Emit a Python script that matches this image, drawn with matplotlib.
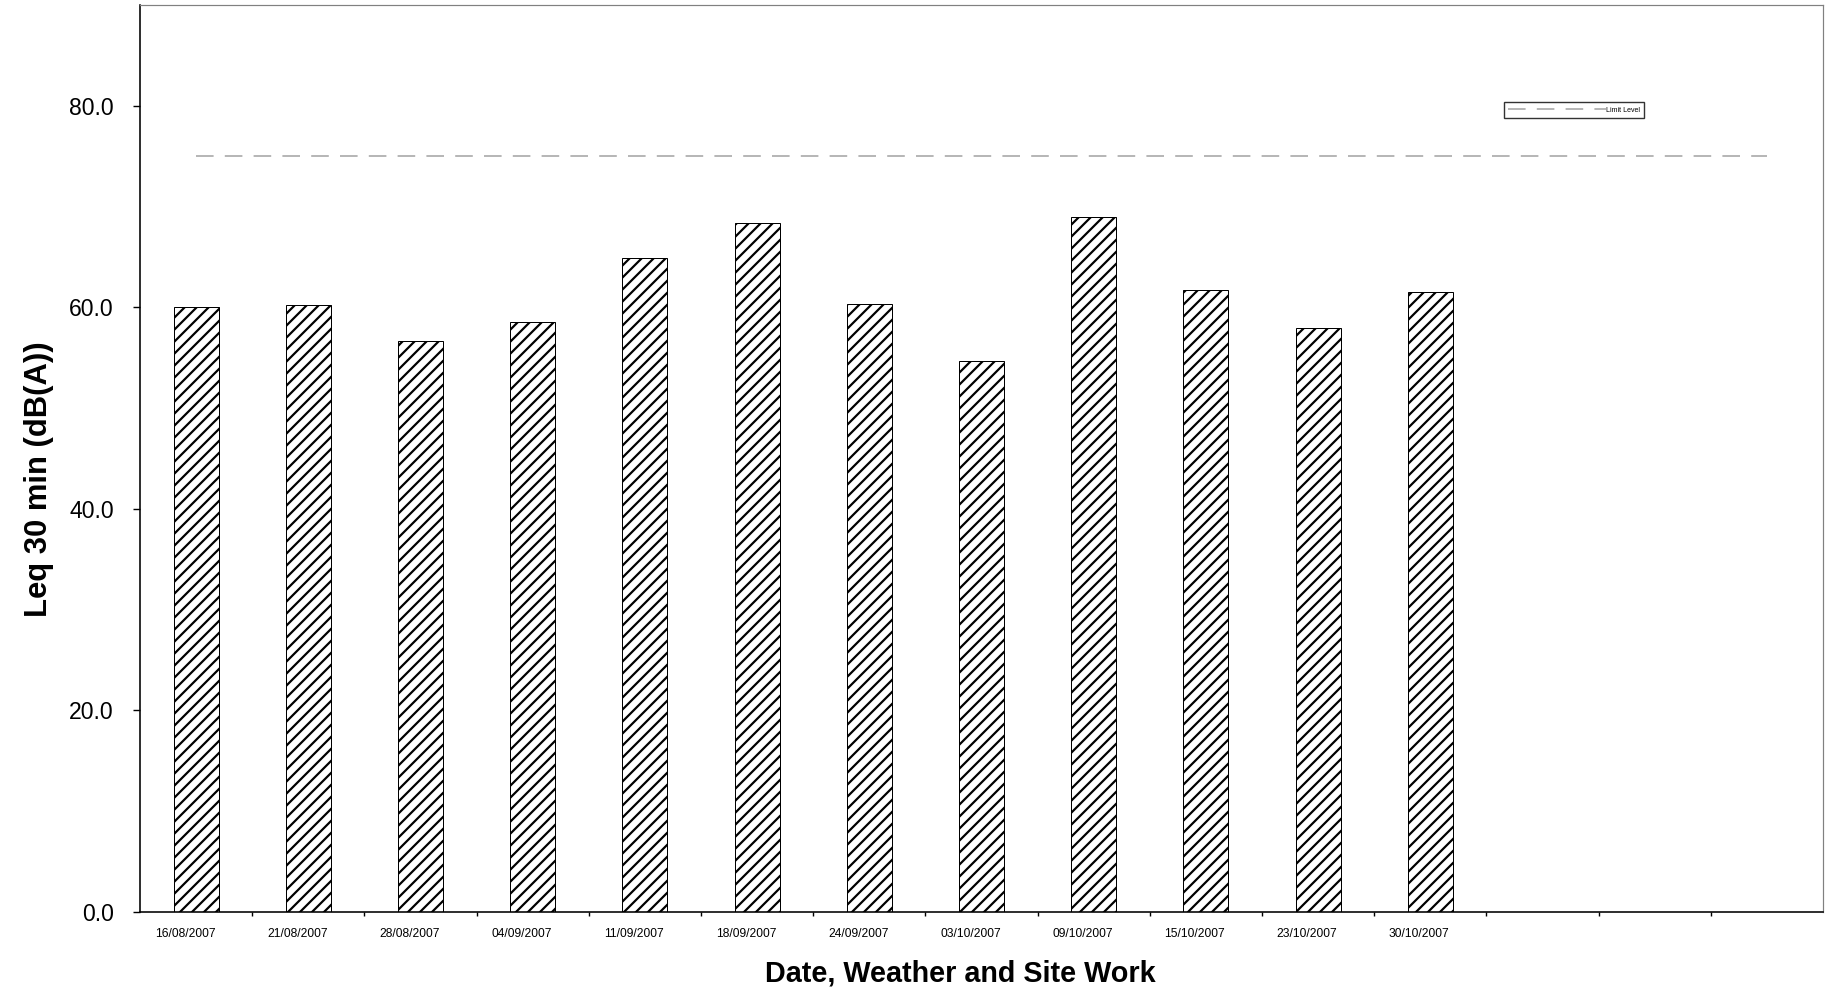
import matplotlib
matplotlib.use('Agg')
import matplotlib.pyplot as plt
from matplotlib import font_manager
from matplotlib.transforms import ScaledTranslation

# survey dates, 15 slots on the axis (last three empty)
dates = ['16/08/2007', '21/08/2007', '28/08/2007', '04/09/2007', '11/09/2007',
         '18/09/2007', '24/09/2007', '03/10/2007', '09/10/2007', '15/10/2007',
         '23/10/2007', '30/10/2007', '', '', '']
leq = [60.0, 60.2, 56.7, 58.5, 64.9, 68.4, 60.3, 54.7, 69.0, 61.7, 57.9, 61.5]
limit_level = [75.0] * len(dates)
yticks = [0, 20, 40, 60, 80]

names = {f.name for f in font_manager.fontManager.ttflist}
base_font = 'Liberation Sans' if 'Liberation Sans' in names else 'DejaVu Sans'
narrow_font = 'Liberation Sans Narrow' if 'Liberation Sans Narrow' in names else base_font
plt.rcParams['font.family'] = [base_font, 'DejaVu Sans']
plt.rcParams['hatch.linewidth'] = 1.1

fig = plt.figure(figsize=(1825 / 144, 995 / 144), dpi=144)
fig.patch.set_facecolor('#FFFFFF')
ax = fig.add_axes([140 / 1825, 1 - 912 / 995, 1683 / 1825, 907 / 995])

x = list(range(len(dates)))
ax.bar(x[:len(leq)], leq, width=0.4, facecolor='white', edgecolor='black',
       linewidth=0.5, hatch='////', zorder=2)
ax.plot(x, limit_level, color='#A6A6A6', linewidth=0.8, dashes=(11, 7),
        label='Limit Level', zorder=3)

ax.set_xlim(-0.5, len(dates) - 0.5)
ax.set_ylim(0, 90)
ax.set_yticks(yticks)
ax.set_yticklabels(['%.1f' % v for v in yticks], fontsize=11.5)
ax.tick_params(axis='y', direction='out', length=3.5, width=0.7, pad=9.5)

ax.set_xticks(x)
ax.set_xticklabels(dates, fontsize=6.0, family=narrow_font)
ax.tick_params(axis='x', which='major', length=0, pad=8)
ax.set_xticks([i + 0.5 for i in x[:-1]], minor=True)
ax.tick_params(axis='x', which='minor', direction='out', length=2, width=0.7)
# date labels sit a little left of the bar centres
shift = ScaledTranslation(-11 / 144, 0, fig.dpi_scale_trans)
for lab in ax.get_xticklabels():
    lab.set_transform(lab.get_transform() + shift)

for s in ['left', 'bottom']:
    ax.spines[s].set_color('black')
    ax.spines[s].set_linewidth(0.8)
for s in ['top', 'right']:
    ax.spines[s].set_color('#808080')
    ax.spines[s].set_linewidth(0.6)

fig.text(960 / 1825, 1 - 974 / 995, 'Date, Weather and Site Work',
         ha='center', va='center', fontsize=14.4, fontweight='bold')
fig.text(39 / 1825, 1 - 479 / 995, 'Leq 30 min (dB(A))', rotation=90,
         ha='center', va='center', fontsize=15.5, fontweight='bold')

leg = ax.legend(loc='center', bbox_to_anchor=(1574 / 1825, 1 - 110 / 995),
                bbox_transform=fig.transFigure, fontsize=3.5, frameon=True,
                fancybox=False, handlelength=14, borderpad=0.6,
                handletextpad=0.0, borderaxespad=0)
leg.get_frame().set_edgecolor('black')
leg.get_frame().set_linewidth(0.7)

fig.savefig('out.png', dpi=144, facecolor='#FFFFFF')
plt.close(fig)
